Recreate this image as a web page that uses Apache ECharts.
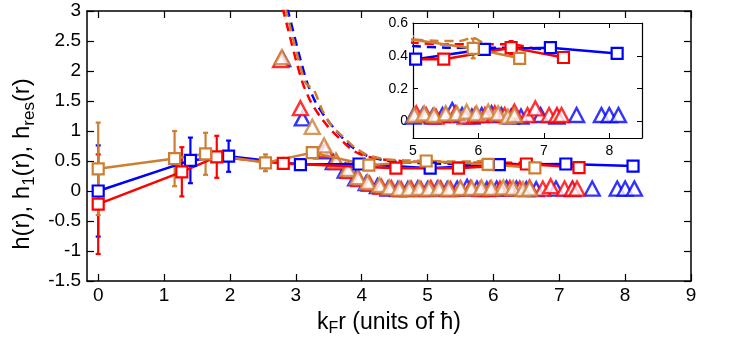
<!DOCTYPE html>
<html>
<head>
<meta charset="utf-8">
<title>h(r), h1(r), hres(r)</title>
<script src="https://cdn.jsdelivr.net/npm/echarts@6/dist/echarts.min.js"></script>
<style>
    html, body { margin: 0; padding: 0; background: #fff; }
    #chart { width: 747px; height: 342px; }
</style>
</head>
<body>
<div id="chart"></div>
<script>
// tick values
var xTicks = [0, 1, 2, 3, 4, 5, 6, 7, 8, 9];
var insetXTicks = [5, 6, 7, 8];
var insetYTicks = [0, 0.2, 0.4, 0.6];

// h(r): squares + solid line + error bars
var blueSqX = [0.00, 1.40, 1.98, 3.07, 3.96, 5.04, 6.09, 7.10, 8.12];
var blueSqY = [0.00, 0.51, 0.58, 0.44, 0.45, 0.38, 0.44, 0.45, 0.415];
var blueSqErr = [0.76, 0.38, 0.26, 0.05, 0.04, 0.02, 0.02, 0.02, 0.02];

var redSqX = [0.00, 1.27, 1.80, 2.81, 4.52, 5.47, 6.50, 7.30];
var redSqY = [-0.22, 0.32, 0.57, 0.46, 0.38, 0.38, 0.45, 0.39];
var redSqErr = [0.83, 0.41, 0.35, 0.09, 0.03, 0.02, 0.04, 0.02];

var brownSqX = [0.00, 1.16, 1.63, 2.54, 3.25, 4.11, 4.98, 5.92, 6.63];
var brownSqY = [0.37, 0.54, 0.62, 0.47, 0.64, 0.43, 0.50, 0.445, 0.385];
var brownSqErr = [0.77, 0.46, 0.35, 0.14, 0.05, 0.04, 0.02, 0.06, 0.02];

// h1(r): dashed lines
var blueH1X = [2.87, 2.97, 3.08, 3.18, 3.30, 3.44, 3.60, 3.75, 3.92, 4.10, 4.35, 4.65, 5.00, 5.50, 6.00, 6.50, 7.00];
var blueH1Y = [3.05, 2.62, 2.15, 1.78, 1.48, 1.24, 1.02, 0.84, 0.68, 0.58, 0.51, 0.48, 0.46, 0.45, 0.45, 0.45, 0.44];
var redH1X = [2.80, 2.90, 3.01, 3.11, 3.23, 3.37, 3.53, 3.70, 3.86, 4.05, 4.30, 4.60, 5.00, 5.50, 6.00, 6.50, 6.80, 7.05];
var redH1Y = [3.05, 2.62, 2.15, 1.78, 1.48, 1.24, 1.02, 0.84, 0.68, 0.58, 0.53, 0.50, 0.48, 0.47, 0.47, 0.47, 0.45, 0.43];
var brownH1X = [2.84, 2.94, 3.05, 3.15, 3.28, 3.40, 3.55, 3.72, 3.90, 4.08, 4.35, 4.65, 5.00, 5.40, 5.70, 5.92, 6.10];
var brownH1Y = [3.05, 2.62, 2.15, 1.80, 1.67, 1.35, 1.08, 0.90, 0.72, 0.60, 0.53, 0.51, 0.50, 0.49, 0.49, 0.51, 0.47];

// hres(r): triangles
var blueTriX = [2.80, 3.10, 3.40, 3.57, 3.75, 3.91, 4.07, 4.24, 4.40, 4.55, 4.70, 4.85, 5.00, 5.15, 5.30, 5.45, 5.60, 5.75, 5.90, 6.05, 6.20, 6.35, 6.50, 6.65, 6.95, 7.20, 7.50, 7.88, 8.00, 8.14];
var blueTriY = [2.20, 1.21, 0.66, 0.48, 0.34, 0.21, 0.13, 0.08, 0.04, 0.03, 0.03, 0.04, 0.03, 0.04, 0.03, 0.04, 0.07, 0.04, 0.03, 0.04, 0.05, 0.04, 0.03, 0.03, 0.04, 0.03, 0.04, 0.04, 0.04, 0.04];
var redTriX = [2.77, 3.07, 3.45, 3.62, 3.80, 3.96, 4.12, 4.30, 4.45, 4.60, 4.75, 4.90, 5.05, 5.20, 5.35, 5.50, 5.65, 5.80, 5.95, 6.10, 6.25, 6.40, 6.55, 6.75, 6.87, 7.08, 7.20, 7.27];
var redTriY = [2.18, 1.38, 0.68, 0.48, 0.33, 0.20, 0.12, 0.07, 0.05, 0.03, 0.04, 0.03, 0.05, 0.04, 0.03, 0.04, 0.05, 0.03, 0.04, 0.04, 0.05, 0.04, 0.06, 0.04, 0.08, 0.04, 0.04, 0.04];
var brownTriX = [2.79, 3.25, 3.43, 3.61, 3.79, 3.94, 4.09, 4.27, 4.42, 4.57, 4.72, 4.87, 5.02, 5.17, 5.32, 5.50, 5.67, 5.82, 5.97, 6.15, 6.30, 6.45, 6.55];
var brownTriY = [2.23, 1.07, 0.76, 0.51, 0.37, 0.23, 0.15, 0.10, 0.06, 0.04, 0.04, 0.05, 0.04, 0.05, 0.04, 0.05, 0.05, 0.06, 0.05, 0.06, 0.05, 0.03, 0.04];

var BLUE = '#0000ff', RED = '#ff0000', BROWN = '#cc7f33';
var FONT = 'Liberation Sans, Arial, sans-serif';

function zip(xs, ys, es) {
    return xs.map(function (x, i) { return es ? [x, ys[i], es[i]] : [x, ys[i]]; });
}

// vertical error bar with small caps
function errBar(params, api) {
    var x = api.value(0), y = api.value(1), e = api.value(2);
    var a = api.coord([x, y + e]), b = api.coord([x, y - e]);
    var w = 2.5;
    var st = { stroke: api.visual('color'), lineWidth: 2.2 };
    return {
        type: 'group', children: [
            { type: 'line', shape: { x1: a[0], y1: a[1], x2: b[0], y2: b[1] }, style: st },
            { type: 'line', shape: { x1: a[0] - w, y1: a[1], x2: a[0] + w, y2: a[1] }, style: st },
            { type: 'line', shape: { x1: b[0] - w, y1: b[1], x2: b[0] + w, y2: b[1] }, style: st }
        ]
    };
}

function buildSeries(xi, yi) {
    var out = [];
    // dashed h1
    [[blueH1X, blueH1Y, BLUE], [redH1X, redH1Y, RED], [brownH1X, brownH1Y, BROWN]].forEach(function (s) {
        out.push({
            type: 'line', xAxisIndex: xi, yAxisIndex: yi, data: zip(s[0], s[1]),
            showSymbol: false, smooth: 0.2, clip: true, silent: true,
            lineStyle: { color: s[2], width: 2.5, type: [9, 6] }
        });
    });
    // triangles hres
    [[blueTriX, blueTriY, BLUE], [redTriX, redTriY, RED], [brownTriX, brownTriY, BROWN]].forEach(function (s) {
        out.push({
            type: 'scatter', xAxisIndex: xi, yAxisIndex: yi, data: zip(s[0], s[1]),
            symbol: 'triangle', symbolSize: [15, 14], clip: true, silent: true,
            itemStyle: { color: '#fff', borderColor: s[2], borderWidth: 2.4 }
        });
    });
    // squares with error bars, h(r)
    [[blueSqX, blueSqY, blueSqErr, BLUE], [redSqX, redSqY, redSqErr, RED], [brownSqX, brownSqY, brownSqErr, BROWN]].forEach(function (s) {
        out.push({
            type: 'line', xAxisIndex: xi, yAxisIndex: yi, data: zip(s[0], s[1]),
            symbol: 'rect', symbolSize: 11, clip: true, silent: true,
            lineStyle: { color: s[3], width: 2.5 },
            itemStyle: { color: '#fff', borderColor: s[3], borderWidth: 2.2 }
        });
        out.push({
            type: 'custom', xAxisIndex: xi, yAxisIndex: yi, data: zip(s[0], s[1], s[2]),
            renderItem: errBar, clip: true, silent: true, itemStyle: { color: s[3] }
        });
    });
    return out;
}

var axLine = { show: true, onZero: false, lineStyle: { color: '#000', width: 1.5 } };
var inLine = { show: true, onZero: false, lineStyle: { color: '#000', width: 1.2 } };

var chart = echarts.init(document.getElementById('chart'));
var option = {
    backgroundColor: '#fff',
    animation: false,
    grid: [
        { left: 87, right: 56, top: 11, bottom: 56 },
        { left: 413, top: 23, width: 229, height: 115, show: true, backgroundColor: '#fff', borderWidth: 0 }
    ],
    xAxis: [
        {
            type: 'value', gridIndex: 0, min: -0.17, max: 9, position: 'bottom',
            axisLine: axLine, splitLine: { show: false },
            axisTick: { inside: true, length: 7, customValues: xTicks, lineStyle: { color: '#000', width: 1.2 } },
            axisLabel: { customValues: xTicks, color: '#000', fontSize: 19, fontFamily: FONT, margin: 5 },
            name: 'k{sub|F}r (units of ħ)', nameLocation: 'middle', nameGap: 28,
            nameTextStyle: {
                color: '#000', fontSize: 23, fontFamily: FONT,
                rich: { sub: { fontSize: 16, fontFamily: FONT, color: '#000', padding: [12, 0, 0, 0] } }
            }
        },
        {
            type: 'value', gridIndex: 0, min: -0.17, max: 9, position: 'top',
            axisLine: axLine, splitLine: { show: false },
            axisTick: { inside: true, length: 7, customValues: xTicks, lineStyle: { color: '#000', width: 1.2 } },
            axisLabel: { show: false }
        },
        {
            type: 'value', gridIndex: 1, min: 5, max: 8.5, interval: 1, position: 'bottom',
            axisLine: inLine, splitLine: { show: false },
            axisTick: { inside: true, length: 5, customValues: insetXTicks, lineStyle: { color: '#000' } },
            axisLabel: { customValues: insetXTicks, color: '#000', fontSize: 14, fontFamily: FONT, margin: 6 }
        },
        {
            type: 'value', gridIndex: 1, min: 5, max: 8.5, position: 'top',
            axisLine: inLine, splitLine: { show: false },
            axisTick: { inside: true, length: 5, customValues: insetXTicks, lineStyle: { color: '#000' } },
            axisLabel: { show: false }
        }
    ],
    yAxis: [
        {
            type: 'value', gridIndex: 0, min: -1.5, max: 3, interval: 0.5, position: 'left',
            axisLine: axLine, splitLine: { show: false },
            axisTick: { inside: true, length: 7, lineStyle: { color: '#000', width: 1.2 } },
            axisLabel: { color: '#000', fontSize: 19, fontFamily: FONT, margin: 6 },
            name: 'h(r), h{sub|1}(r), h{sub|res}(r)', nameLocation: 'middle', nameGap: 48,
            nameTextStyle: {
                color: '#000', fontSize: 24, fontFamily: FONT, padding: [0, 36, 0, 0],
                rich: { sub: { fontSize: 17, fontFamily: FONT, color: '#000', padding: [12, 0, 0, 0] } }
            }
        },
        {
            type: 'value', gridIndex: 0, min: -1.5, max: 3, interval: 0.5, position: 'right',
            axisLine: axLine, splitLine: { show: false },
            axisTick: { inside: true, length: 7, lineStyle: { color: '#000', width: 1.2 } },
            axisLabel: { show: false }
        },
        {
            type: 'value', gridIndex: 1, min: -0.1, max: 0.6, position: 'left',
            axisLine: inLine, splitLine: { show: false },
            axisTick: { inside: true, length: 5, customValues: insetYTicks, lineStyle: { color: '#000' } },
            axisLabel: { customValues: insetYTicks, color: '#000', fontSize: 14, fontFamily: FONT, margin: 5 }
        },
        {
            type: 'value', gridIndex: 1, min: -0.1, max: 0.6, position: 'right',
            axisLine: inLine, splitLine: { show: false },
            axisTick: { inside: true, length: 5, customValues: insetYTicks, lineStyle: { color: '#000' } },
            axisLabel: { show: false }
        }
    ],
    series: buildSeries(0, 0).concat(buildSeries(2, 2))
};
chart.setOption(option);
</script>
</body>
</html>
